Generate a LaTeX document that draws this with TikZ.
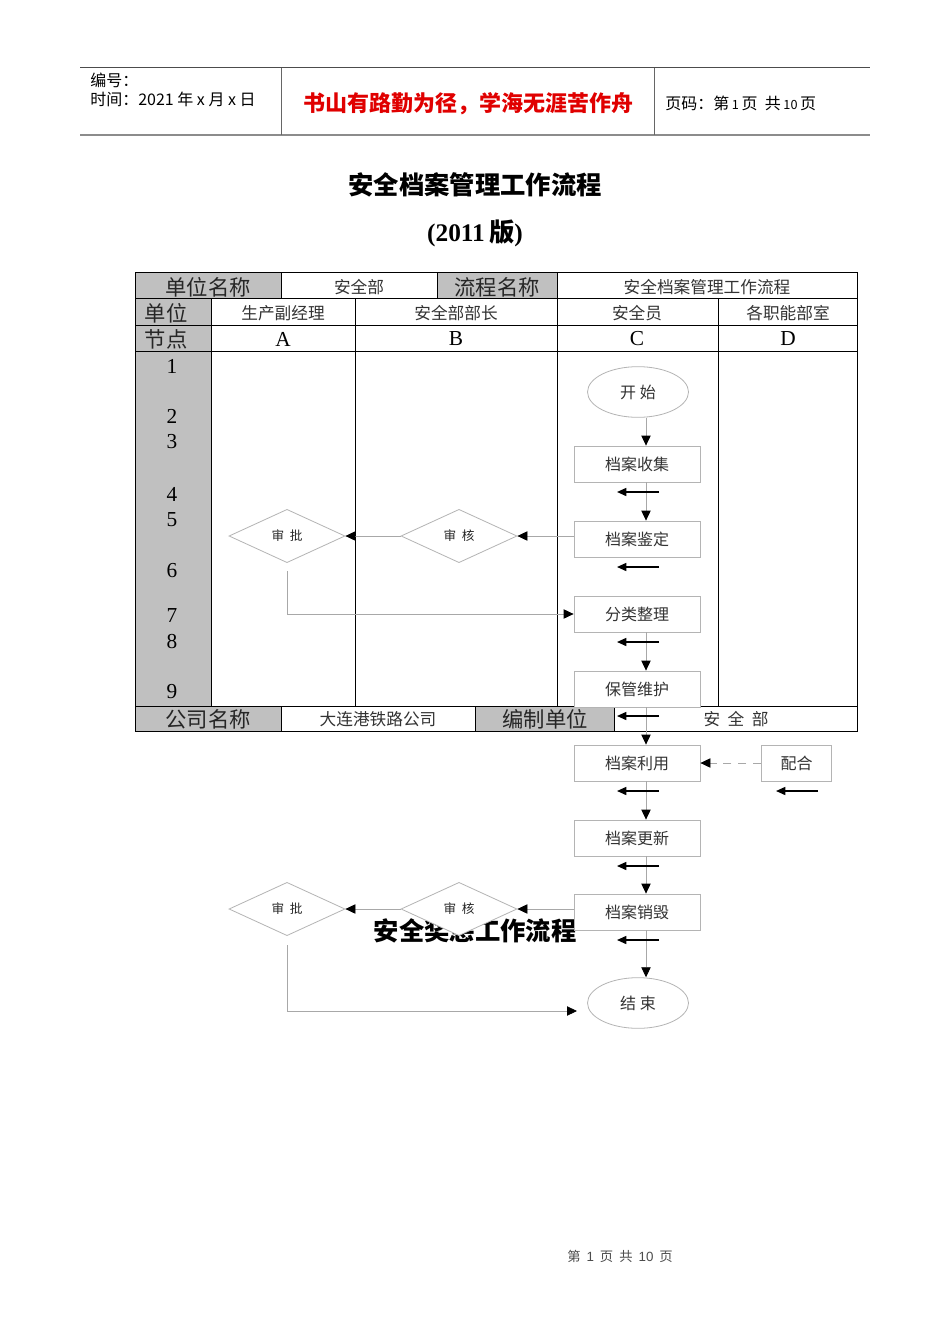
\documentclass[tikz,border=0pt]{standalone}
\usepackage{fontspec}
\setmainfont{Liberation Serif}
\newfontfamily\cjk{Noto Sans CJK SC}
\newfontfamily\lsans{Liberation Sans}
\usetikzlibrary{shapes.geometric,arrows.meta}
\definecolor{cellgray}{HTML}{C0C0C0}
\definecolor{boxline}{HTML}{B4B4B4}
\definecolor{flowline}{HTML}{A8A8A8}
\definecolor{hdrred}{HTML}{E00000}
\newcommand\myfs[1]{\fontsize{#1}{#1}\selectfont}
\tikzset{
  tbl/.style={draw=black, line width=0.75pt},
  big/.style={font=\cjk\myfs{16pt}, text=black!85, inner sep=0},
  small/.style={font=\cjk\myfs{12.5pt}, text=black!80, inner sep=0},
  numtxt/.style={font=\myfs{16pt}, inner sep=0},
  procbox/.style={draw=boxline, line width=0.6pt, fill=white, rectangle, minimum width=94.5pt, minimum height=27pt, inner sep=0, font=\cjk\myfs{12pt}, text=black!80},
  termnode/.style={draw=boxline, line width=0.6pt, fill=white, ellipse, minimum width=75.75pt, minimum height=38pt, inner sep=0, font=\cjk\myfs{12pt}, text=black!80},
  decide/.style={draw=boxline, line width=0.6pt, fill=white, diamond, minimum width=87pt, minimum height=40pt, inner sep=0, font=\cjk\myfs{9.5pt}, text=black!85},
  flow/.style={draw=flowline, line width=0.6pt, -{Triangle[length=7.5pt,width=7pt,color=black]}},
  dflow/.style={flow, dashed, dash pattern=on 6pt off 5pt},
  back/.style={draw=black, line width=1.2pt, -{Triangle[length=7pt,width=6pt]}},
}
\begin{document}
\begin{tikzpicture}[x=0.75pt,y=-0.75pt]
\useasboundingbox[fill=white] (0,0) rectangle (950,1344);

% ---------- header ----------
\draw[draw=black!70, line width=0.75pt] (80,68) -- (870,68);
\draw[draw=black!45, line width=1.6pt] (80,135) -- (870,135);
\draw[draw=black!60, line width=0.75pt] (281,68) -- (281,135) (654,68) -- (654,135);
\node[anchor=west, font=\cjk\myfs{12pt}, inner sep=0] (hno) at (90,80) {编号：};
\node[anchor=west, font=\cjk\myfs{12pt}, inner sep=0] (htime) at (90,99) {时间：2021 年 x 月 x 日};
\node[font=\cjk\bfseries\myfs{16.5pt}, text=hdrred, inner sep=0] (hmotto) at (468,104) {书山有路勤为径，学海无涯苦作舟};
\node[anchor=west, font=\cjk\myfs{12pt}, inner sep=0] (hpage) at (665,103) {页码：第\,{\myfs{9.5pt}1}\,页\ \ 共\,{\myfs{9.5pt}10}\,页};

% ---------- title ----------
\node[font=\cjk\bfseries\myfs{19pt}, inner sep=0] (title) at (475,185) {安全档案管理工作流程};
\node[font=\bfseries\myfs{19pt}, inner sep=0] (ver) at (475,233) {(2011\,{\cjk\bfseries 版})};

% ---------- table ----------
\fill[cellgray] (135,273) rectangle (281,299);
\fill[cellgray] (437,273) rectangle (557,299);
\fill[cellgray] (135,299) rectangle (211,706);
\fill[cellgray] (135,706) rectangle (281,731);
\fill[cellgray] (475,706) rectangle (614,731);
\draw[tbl] (135,273) rectangle (857,731);
\draw[tbl] (135,299) -- (857,299) (135,325) -- (857,325) (135,351) -- (857,351) (135,706) -- (857,706);
\draw[tbl] (281,273) -- (281,299) (437,273) -- (437,299) (557,273) -- (557,299);
\draw[tbl] (211,299) -- (211,706) (355,299) -- (355,706) (557,299) -- (557,706) (718,299) -- (718,706);
\draw[tbl] (281,706) -- (281,731) (475,706) -- (475,731) (614,706) -- (614,731);

\node[big] (t11) at (208,287) {单位名称};
\node[small] (t12) at (359,287) {安全部};
\node[big] (t13) at (497,287) {流程名称};
\node[small] (t14) at (707,287) {安全档案管理工作流程};
\node[big] (t21) at (166,313) {单位};
\node[small] (t22) at (283,313) {生产副经理};
\node[small] (t23) at (456,313) {安全部部长};
\node[small] (t24) at (637,313) {安全员};
\node[small] (t25) at (788,313) {各职能部室};
\node[big] (t31) at (166,339) {节点};
\node[numtxt] (t32) at (283,339) {A};
\node[numtxt] (t33) at (456,339) {B};
\node[numtxt] (t34) at (637,339) {C};
\node[numtxt] (t35) at (788,339) {D};
\foreach \n/\yy in {1/366,2/416,3/442,4/494,5/520,6/571,7/616,8/642,9/692}
  \node[numtxt] (num\n) at (172,\yy) {\n};
\node[big] (b1) at (208,719) {公司名称};
\node[small] (b2) at (378,719) {大连港铁路公司};
\node[big] (b3) at (545,719) {编制单位};
\node[small] (b4) at (736,719) {安\ \ 全\ \ 部};

% ---------- overlapping second title ----------
\node[font=\cjk\bfseries\myfs{19pt}, inner sep=0] (title2) at (475,931) {安全奖惩工作流程};

% ---------- flow nodes ----------
\node[termnode] (ks) at (638,392) {开\ 始};
\node[procbox] (sj) at (637,464) {档案收集};
\node[procbox] (jd) at (637,539) {档案鉴定};
\node[procbox] (fl) at (637,614) {分类整理};
\node[procbox] (bg) at (637,689) {保管维护};
\node[procbox] (ly) at (637,763) {档案利用};
\node[procbox, minimum width=53pt] (ph) at (796.5,763) {配合};
\node[procbox] (gx) at (637,838) {档案更新};
\node[procbox] (xh) at (637,912) {档案销毁};
\node[termnode] (js) at (638,1003) {结\ 束};
\node[decide] (sp1) at (287,536) {审\ \ 批};
\node[decide] (sh1) at (459,536) {审\ \ 核};
\node[decide] (sp2) at (287,909) {审\ \ 批};
\node[decide] (sh2) at (459,909) {审\ \ 核};

\coordinate (vx) at (646,0);
\coordinate (end2) at (577,1011);

% ---------- connectors ----------
\draw[flow] (ks.south -| vx) -- (sj.north -| vx);
\draw[flow] (sj.south -| vx) -- (jd.north -| vx);
\draw[flow] (fl.south -| vx) -- (bg.north -| vx);
\draw[flow] (bg.south -| vx) -- (ly.north -| vx);
\draw[flow] (ly.south -| vx) -- (gx.north -| vx);
\draw[flow] (gx.south -| vx) -- (xh.north -| vx);
\draw[flow] (xh.south -| vx) -- (js.north -| vx);
\draw[flow] (jd.west |- sh1.east) -- (sh1.east);
\draw[flow] (sh1.west) -- (sp1.east);
\draw[flow] ([yshift=-6pt]sp1.south) |- (fl.west);
\draw[flow] (xh.west |- sh2.east) -- (sh2.east);
\draw[flow] (sh2.west) -- (sp2.east);
\draw[flow] ([yshift=-7pt]sp2.south) |- (end2);
\draw[dflow] (ph.west) -- (ly.east);

% ---------- small black return arrows ----------
\foreach \yy in {492,567,642,716,791,866,940}
  \draw[back] (659,\yy) -- (617,\yy);
\draw[back] (818,791) -- (776,791);

% ---------- footer ----------
\node[font=\cjk\myfs{10pt}, text=black!70, inner sep=0] (foot) at (620,1256) {第\ \ {\lsans 1}\ \ 页\ \ 共\ \ {\lsans 10}\ \ 页};
\end{tikzpicture}
\end{document}
